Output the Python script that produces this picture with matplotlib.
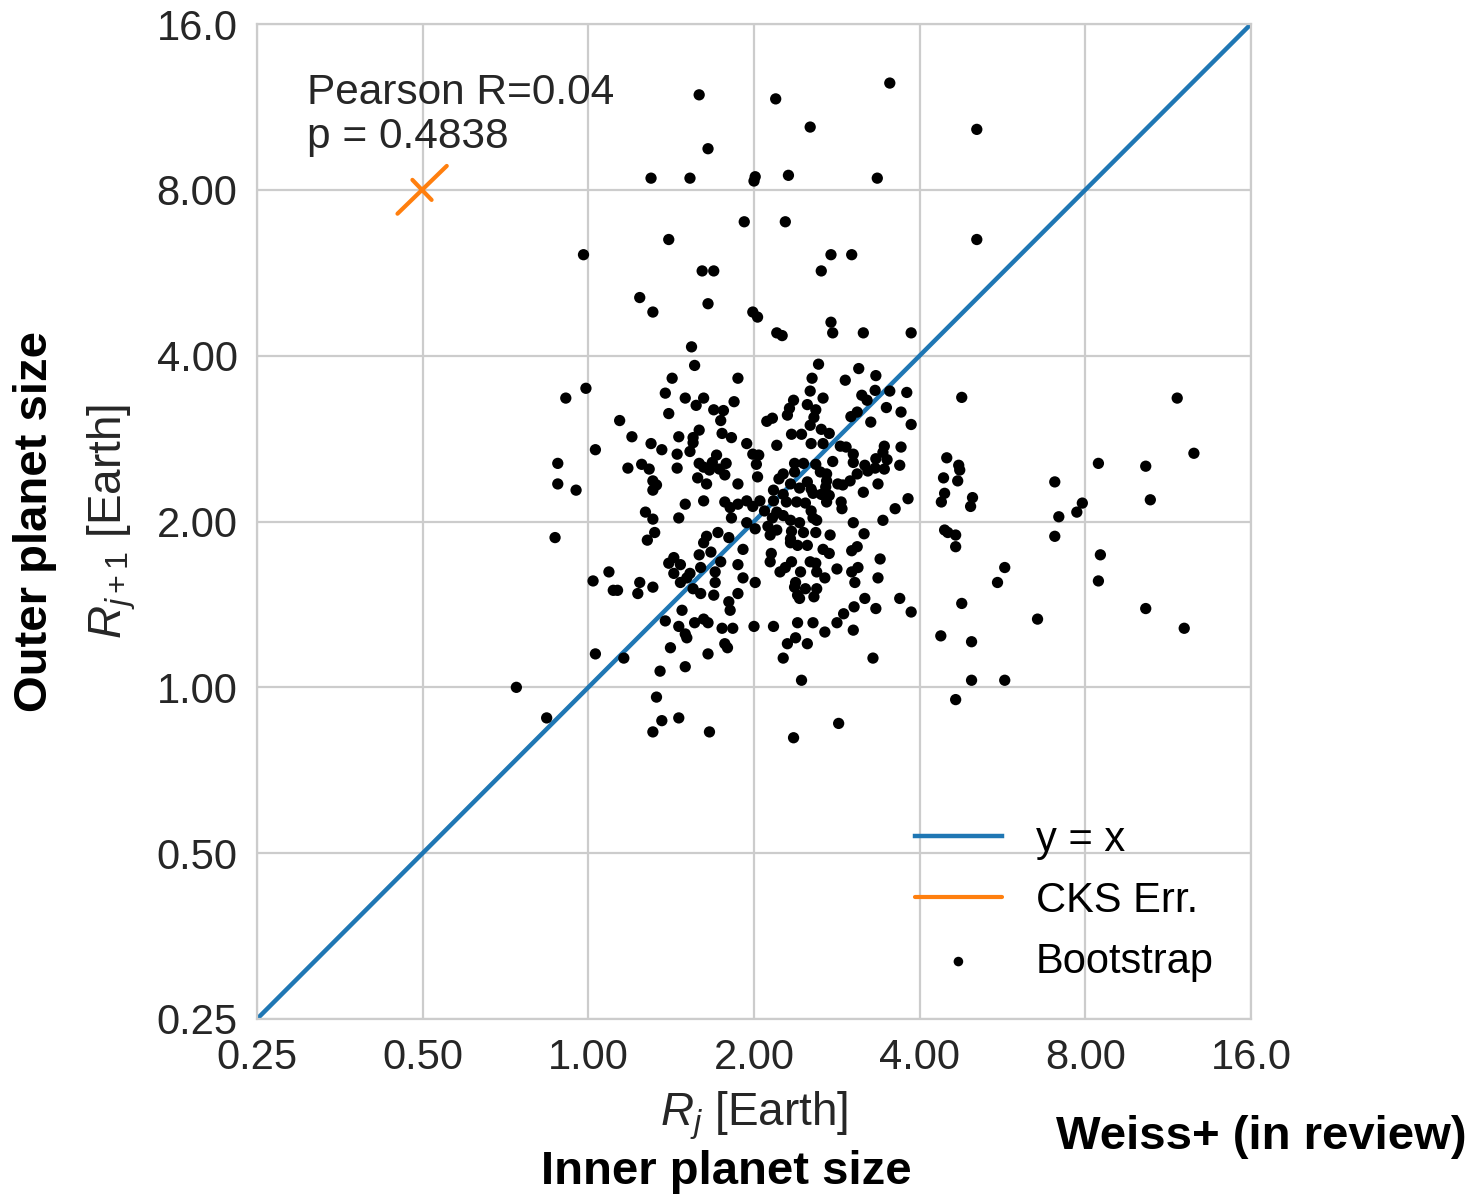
import matplotlib
matplotlib.use("Agg")
import matplotlib.pyplot as plt

plt.rcParams["font.family"] = ["Liberation Sans", "DejaVu Sans"]
plt.rcParams["mathtext.fontset"] = "custom"
plt.rcParams["mathtext.rm"] = "Liberation Sans"
plt.rcParams["mathtext.it"] = "Liberation Sans:italic"

# Bootstrap pairs: inner planet radius R_j, outer R_{j+1} [Earth radii]
inner_r = [
    3.53, 1.59, 2.19, 2.53, 5.08, 1.65, 1.30, 1.53, 2.01, 2.00,
    2.31, 3.35, 1.92, 2.28, 1.40, 5.08, 0.98, 2.76, 3.01, 2.65,
    1.61, 1.69, 1.24, 1.65, 1.31, 1.99, 2.03, 2.20, 2.25, 2.76,
    2.78, 3.16, 3.86, 1.54, 1.56, 1.42, 1.87, 0.99, 0.91, 1.38,
    1.50, 1.62, 1.57, 1.84, 1.69, 1.76, 1.40, 1.74, 1.14, 1.59,
    1.55, 1.75, 1.82, 1.20, 1.46, 1.55, 1.30, 1.36, 1.03, 1.53,
    1.45, 1.71, 0.88, 1.59, 1.68, 1.78, 1.25, 1.18, 1.29, 1.45,
    1.62, 1.66, 1.77, 1.58, 1.73, 1.64, 1.31, 1.33, 1.87, 0.88,
    0.95, 1.31, 1.50, 1.62, 1.77, 1.81, 1.87, 1.27, 1.31, 1.46, 1.82,
    2.62, 2.55, 3.10, 3.33, 2.93, 2.53, 2.67, 2.36, 3.32, 3.53,
    3.79, 3.14, 3.21, 2.50, 2.59, 2.32, 3.48, 2.30, 3.00, 3.08,
    2.57, 3.70, 2.16, 2.11, 3.26, 3.86, 2.53, 2.65, 2.74, 2.34,
    2.44, 1.94, 2.20, 2.54, 2.67, 2.87, 2.94, 3.45, 3.70, 3.43,
    1.99, 2.04, 3.03, 3.33, 3.49, 3.03, 2.37, 2.46, 2.02, 2.59,
    2.78, 3.68, 4.48, 4.71, 3.18, 3.22, 3.32, 3.45, 2.64, 4.73,
    2.37, 2.26, 2.71, 2.03, 4.42, 4.69, 3.08, 2.22, 2.99, 2.71,
    2.50, 3.36, 2.84, 2.90, 2.33, 2.42, 2.70, 2.54, 2.17, 2.74,
    3.16, 2.56, 2.65, 2.26, 4.44, 4.38, 4.99, 4.95, 1.94, 2.05,
    2.17, 2.29, 2.39, 2.48, 2.71, 2.88, 3.81, 2.89, 3.61, 2.54,
    1.99, 2.09, 2.20, 2.16, 2.26, 2.56, 2.60, 3.03, 3.43, 2.33, 2.42, 1.94,
    2.12, 2.20, 2.34, 2.46, 2.59, 2.75, 3.17, 2.14, 4.44, 4.50,
    4.65, 2.01, 2.33, 1.32, 0.87, 1.64, 1.72, 1.80, 1.28,
    1.62, 1.67, 1.59, 1.43, 1.40, 1.47, 1.74, 1.87, 1.09, 1.43,
    1.53, 1.70, 1.60, 1.02, 1.24, 1.47, 1.51, 1.70, 1.11, 1.13,
    1.31, 1.23, 1.55, 1.60, 1.69, 1.87, 1.80, 1.81, 1.48, 1.38,
    1.46, 1.56, 1.62, 1.65, 1.75, 1.83, 1.50, 1.51, 1.77, 1.79,
    1.41, 1.03, 1.16, 1.65, 1.50, 1.35, 1.91, 2.15, 2.14, 2.33,
    2.40, 2.50, 2.67, 2.74, 3.01, 3.08, 3.39, 2.34, 2.53, 2.59,
    2.28, 2.23, 2.43, 2.60, 2.83, 3.01, 3.09, 1.91, 2.01, 2.69,
    3.36, 2.38, 2.37, 2.48, 2.60, 3.05, 2.40, 2.42, 2.57, 3.18,
    3.68, 3.86, 3.04, 3.33, 2.91, 2.83, 2.00, 2.17, 2.40, 2.56,
    2.69, 3.03, 2.38, 2.30, 2.50, 2.26, 3.29, 2.44,
    4.65, 4.77, 4.37, 4.97, 4.97, 4.65, 4.77,
    11.75, 12.6, 8.45, 10.3, 7.04, 10.5, 7.90, 7.72, 7.16, 7.04,
    5.71, 5.54, 6.55, 5.71, 8.52, 8.45, 10.3, 12.1,
    0.74, 0.84, 1.33, 1.36, 1.46, 1.31, 1.66, 2.85, 2.36,
]
outer_r = [
    12.5, 11.9, 11.7, 10.4, 10.3, 9.5, 8.4, 8.4, 8.45, 8.3,
    8.5, 8.4, 7.0, 7.0, 6.5, 6.5, 6.1, 6.1, 6.1, 5.7,
    5.7, 5.7, 5.1, 4.97, 4.8, 4.8, 4.7, 4.4, 4.35, 4.6,
    4.4, 4.4, 4.4, 4.15, 3.84, 3.64, 3.64, 3.49, 3.35, 3.42,
    3.35, 3.35, 3.25, 3.30, 3.19, 3.18, 3.14, 3.05, 3.05, 2.93,
    2.84, 2.89, 2.84, 2.85, 2.85, 2.78, 2.77, 2.70, 2.70, 2.68,
    2.65, 2.64, 2.55, 2.55, 2.56, 2.55, 2.54, 2.50, 2.49, 2.50,
    2.51, 2.48, 2.43, 2.40, 2.49, 2.34, 2.37, 2.33, 2.34, 2.34,
    2.28, 2.28, 2.15, 2.18, 2.17, 2.12, 2.15, 2.08, 2.02, 2.03, 2.03,
    3.86, 3.64, 3.79, 3.68, 3.61, 3.45, 3.35, 3.32, 3.46, 3.45,
    3.43, 3.39, 3.32, 3.26, 3.19, 3.21, 3.22, 3.12, 3.10, 3.16,
    3.09, 3.16, 3.08, 3.04, 3.03, 3.00, 2.99, 2.94, 2.89, 2.88,
    2.88, 2.77, 2.75, 2.77, 2.77, 2.74, 2.73, 2.74, 2.73, 2.67,
    2.65, 2.64, 2.65, 2.60, 2.59, 2.56, 2.55, 2.55, 2.54, 2.54,
    2.57, 2.53, 2.61, 2.53, 2.53, 2.47, 2.50, 2.49, 2.46, 2.48,
    2.46, 2.44, 2.44, 2.41, 2.40, 2.37, 2.44, 2.39, 2.37, 2.37,
    2.36, 2.34, 2.34, 2.33, 2.34, 2.30, 2.31, 2.29, 2.28, 2.23,
    2.26, 2.25, 2.24, 2.24, 2.25, 2.17, 2.21, 2.13, 2.18, 2.18,
    2.18, 2.17, 2.17, 2.16, 2.17, 2.17, 2.20, 2.11, 2.11, 2.09,
    2.13, 2.09, 2.08, 2.03, 2.05, 2.03, 2.01, 1.99, 2.01, 2.01, 1.99, 1.99,
    1.96, 1.93, 1.92, 1.91, 1.91, 1.89, 1.90, 1.89, 1.93, 1.91,
    1.89, 1.94, 1.86, 1.91, 1.87, 1.88, 1.91, 1.87, 1.85,
    1.83, 1.76, 1.74, 1.72, 1.68, 1.67, 1.69, 1.67, 1.62, 1.61,
    1.61, 1.62, 1.65, 1.56, 1.55, 1.55, 1.58, 1.55, 1.50, 1.50,
    1.52, 1.48, 1.51, 1.48, 1.47, 1.48, 1.43, 1.38, 1.38, 1.32,
    1.29, 1.31, 1.33, 1.31, 1.28, 1.28, 1.25, 1.23, 1.20, 1.18,
    1.18, 1.15, 1.13, 1.15, 1.09, 1.07, 1.78, 1.75, 1.69, 1.83,
    1.81, 1.81, 1.78, 1.75, 1.77, 1.80, 1.71, 1.69, 1.69, 1.68,
    1.65, 1.62, 1.62, 1.62, 1.64, 1.62, 1.65, 1.58, 1.55, 1.58,
    1.58, 1.55, 1.52, 1.51, 1.51, 1.55, 1.47, 1.45, 1.46, 1.45,
    1.45, 1.37, 1.40, 1.39, 1.36, 1.31, 1.29, 1.29, 1.31, 1.31,
    1.26, 1.27, 1.23, 1.20, 1.20, 1.13, 1.13, 1.03,
    1.80, 1.42, 1.24, 1.21, 1.03, 0.95, 3.36,
    3.35, 2.66, 2.55, 2.52, 2.36, 2.19, 2.16, 2.08, 2.04, 1.88,
    1.65, 1.55, 1.33, 1.03, 1.74, 1.56, 1.39, 1.28,
    1.00, 0.88, 0.96, 0.87, 0.88, 0.83, 0.83, 0.86, 0.81,
]
assert len(inner_r) == len(outer_r)

# one-to-one line and the CKS radius error cross at (0.5, 8)
unity = [0.25, 16.0]
cks_long_x = [0.45, 0.553]
cks_long_y = [7.24, 8.84]
cks_short_x = [0.479, 0.519]
cks_short_y = [8.34, 7.67]

ticks = [0.25, 0.5, 1, 2, 4, 8, 16]
tick_labels = ["0.25", "0.50", "1.00", "2.00", "4.00", "8.00", "16.0"]

pearson_r = 0.04
p_value = 0.4838

fig = plt.figure(figsize=(14.76, 11.98), dpi=100)
ax = fig.add_axes([257 / 1476, 1 - 1019 / 1198, 994 / 1476, 995 / 1198])
ax.set_xscale("log", base=2)
ax.set_yscale("log", base=2)

ax.plot(unity, unity, color="#1f77b4", lw=3.2, label="y = x", zorder=2)
ax.plot(cks_long_x, cks_long_y, color="#ff7f0e", lw=3, solid_capstyle="round",
        label="CKS Err.", zorder=2)
ax.plot(cks_short_x, cks_short_y, color="#ff7f0e", lw=3, solid_capstyle="round", zorder=2)
ax.scatter(inner_r, outer_r, s=66, color="black", edgecolor="none",
           label="Bootstrap", zorder=3)

ax.set_xlim(0.25, 16)
ax.set_ylim(0.25, 16)
ax.set_xticks(ticks, tick_labels)
ax.set_yticks(ticks, tick_labels)
ax.minorticks_off()
ax.grid(True, color="#cccccc", lw=1.6)
ax.set_axisbelow(True)
for s in ax.spines.values():
    s.set_color("#cccccc")
    s.set_linewidth(1.6)
ax.tick_params(length=0, labelsize=30, labelcolor="#262626", pad=14)

ax.text(0.05, 0.951, f"Pearson R={pearson_r:.2f}\np = {p_value:.4f}",
        transform=ax.transAxes, fontsize=30.5, va="top", color="#262626",
        linespacing=1.15)

ax.set_xlabel("$R_j$ [Earth]", fontsize=33, color="#262626")
ax.xaxis.set_label_coords(0.5, -0.071)
ax.set_ylabel("$R_{j+1}$ [Earth]", fontsize=33, color="#262626")
ax.yaxis.set_label_coords(-0.12, 0.5)

leg = ax.legend(loc="lower right", frameon=False, fontsize=30, markerscale=0.85,
                handlelength=2.1)

fig.text(726 / 1476, 1 - 1172 / 1198, "Inner planet size", fontsize=34,
         fontweight="bold", ha="center", va="center")
fig.text(35 / 1476, 1 - 522 / 1198, "Outer planet size", fontsize=34,
         fontweight="bold", ha="center", va="center", rotation=90)
fig.text(1467 / 1476, 1 - 1137 / 1198, "Weiss+ (in review)", fontsize=34,
         fontweight="bold", ha="right", va="center")

fig.savefig("out.png", dpi=100)
